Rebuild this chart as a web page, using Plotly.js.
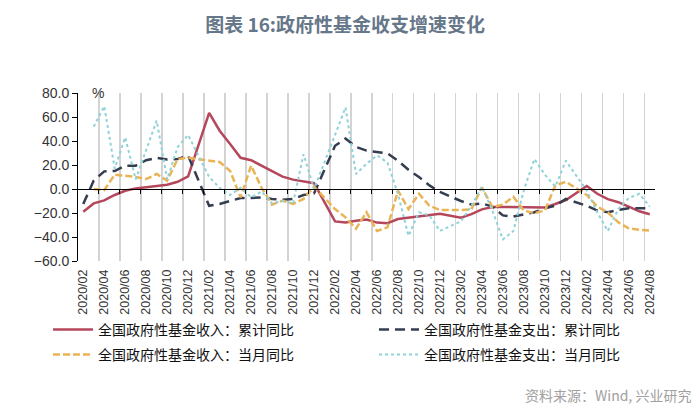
<!DOCTYPE html>
<html>
<head>
<meta charset="utf-8">
<script src="https://cdn.plot.ly/plotly-3.0.1.min.js"></script>
<style>html,body{margin:0;padding:0;background:#fff;}#chart{width:700px;height:407px;}</style>
</head>
<body>
<div id="chart"></div>
<script>
const categories = [
  "2020/02","2020/03","2020/04","2020/05","2020/06","2020/07","2020/08","2020/09","2020/10","2020/11","2020/12",
  "2021/01","2021/02","2021/03","2021/04","2021/05","2021/06","2021/07","2021/08","2021/09","2021/10","2021/11","2021/12",
  "2022/01","2022/02","2022/03","2022/04","2022/05","2022/06","2022/07","2022/08","2022/09","2022/10","2022/11","2022/12",
  "2023/01","2023/02","2023/03","2023/04","2023/05","2023/06","2023/07","2023/08","2023/09","2023/10","2023/11","2023/12",
  "2024/01","2024/02","2024/03","2024/04","2024/05","2024/06","2024/07","2024/08"
];
// 全国政府性基金收入：累计同比
const revenueCum = [-19,-12,-9.5,-5,-1.5,0.5,1.5,2.8,3.5,6,10.6,
  null,63.4,48.6,37.5,26,24,19.5,14.7,10.3,7.8,6,4.8,
  null,-27,-28,-26.5,-25.5,-28,-28.5,-25,-24,-22.5,-21.5,-20.6,
  null,-24,-21,-17,-15,-15,-15,-15.5,-15.5,-15.5,-12.5,-9.2,
  null,2.5,-4,-8.5,-11,-14.7,-18.6,-21];
// 全国政府性基金支出：累计同比
const expenditureCum = [-12.5,7,14.7,15,19.4,19.4,24,26,24.5,25,27.8,
  null,-14,-12.5,-9.7,-7.5,-7.5,-7,-8.3,-9,-8.3,-5,-3.7,
  null,36,42,35,32,31,29.7,23.6,16,10,3,-2.5,
  null,-10,-13,-12,-14.7,-22,-23,-21.4,-19.4,-16,-14,-8.3,
  null,-14,-18,-19.4,-17.5,-16,-16,-16];
// 全国政府性基金收入：当月同比
const revenueMonth = [null,0,-1,12,11,10,8.3,12.5,7,25,26,
  null,24,22.5,15,-7,19.5,1,-13,-9.7,-12.5,-8.3,2,
  null,-16.7,-23.6,-33,-19.4,-35,-32,-1.4,-16.7,-4,-14,-17.5,
  null,-17.5,-17,1.4,-15,-13,-6.4,-18,-20,-18,3,6,
  null,-5,-14.7,-19.4,-27.8,-32.8,-33.9,-34.7];
// 全国政府性基金支出：当月同比
const expenditureMonth = [null,52,69,17,43,8,33,57,8,35,45,
  null,10,1,-5,1,-7,-2,-12,-10,-12,29,0,
  null,45,68,12.5,21,28,22,-4,-39,-19.4,-22,-35,
  null,-27,-14,2,-18,-42,-35,-1,25,12,2,23.6,
  null,-1.4,-19.4,-35,-16.7,-7.5,-4,-14.7];
const seriesNames = ["全国政府性基金收入：累计同比","全国政府性基金支出：累计同比","全国政府性基金收入：当月同比","全国政府性基金支出：当月同比"];
const yTicks = [-60,-40,-20,0,20,40,60,80];

const labelVals = categories.filter((c, i) => i % 2 === 0);
const gridVals = categories.map((c, i) => i).filter(i => i % 2 === 0 && i > 0).map(i => i - 0.5);
const xr = [-0.5, categories.length - 0.5];

const traces = [
  {x: categories, y: revenueCum, name: seriesNames[0], type: 'scatter', mode: 'lines', connectgaps: true,
   legend: 'legend', line: {color: '#b5475c', width: 2.5}},
  {x: categories, y: expenditureCum, name: seriesNames[1], type: 'scatter', mode: 'lines', connectgaps: true,
   legend: 'legend', line: {color: '#353d50', width: 2.5, dash: '10px,6px'}},
  {x: categories, y: revenueMonth, name: seriesNames[2], type: 'scatter', mode: 'lines', connectgaps: true,
   legend: 'legend2', line: {color: '#eab456', width: 2.5, dash: '7px,3px'}},
  {x: categories, y: expenditureMonth, name: seriesNames[3], type: 'scatter', mode: 'lines', connectgaps: true,
   legend: 'legend2', line: {color: '#8fd2d8', width: 2, dash: 'dot'}}
];

const legendBase = {orientation: 'h', x: (59-78)/577, xanchor: 'left', yanchor: 'top',
  entrywidth: 271, entrywidthmode: 'pixels', itemwidth: 40, traceorder: 'normal',
  font: {family: 'Noto Sans CJK SC', size: 14, color: '#111'}, bgcolor: 'rgba(0,0,0,0)'};

const layout = {
  width: 700, height: 407,
  margin: {l: 78, r: 45, t: 93, b: 146, pad: 0},
  paper_bgcolor: '#fff', plot_bgcolor: '#fff',
  showlegend: true,
  title: {text: '图表 16:政府性基金收支增速变化', x: 0.493, xanchor: 'center', y: 1 - 25/407, yanchor: 'middle',
          font: {family: 'Noto Sans CJK SC', size: 19, color: '#66778a', weight: 700}},
  xaxis: {type: 'category', range: xr, tickvals: labelVals, ticktext: labelVals, tickangle: -90,
          showgrid: false, zeroline: false, showline: false, ticks: '', ticklabelstandoff: 5, automargin: false,
          tickfont: {family: 'Liberation Sans', size: 12.5, color: '#333'}},
  xaxis2: {overlaying: 'x', anchor: 'free', position: 60/140, range: xr, type: 'linear',
           tickvals: gridVals, showticklabels: false, ticks: 'outside', ticklen: 4, tickcolor: '#000', tickwidth: 1,
           showgrid: true, gridcolor: '#d3d3d3', gridwidth: 1.5, showline: true, linecolor: '#000', linewidth: 1,
           zeroline: false, automargin: false},
  yaxis: {range: [-60, 80], tickvals: yTicks, tickformat: '.1f', showgrid: false, zeroline: false, automargin: false,
          showline: true, linecolor: '#000', linewidth: 1, ticks: 'outside', ticklen: 5, tickcolor: '#000',
          tickfont: {family: 'Liberation Sans', size: 14, color: '#333'}},
  legend: Object.assign({}, legendBase, {y: -(314-261)/168}),
  legend2: Object.assign({}, legendBase, {y: -(339-261)/168}),
  annotations: [
    {text: '%', xref: 'paper', yref: 'paper', x: 20/577, y: 1, xanchor: 'center', yanchor: 'middle', showarrow: false,
     font: {family: 'Liberation Sans', size: 14, color: '#333'}},
    {text: '资料来源：Wind, 兴业研究', xref: 'paper', yref: 'paper', x: (693-78)/577, y: -(395-261)/168, xanchor: 'right', yanchor: 'middle', showarrow: false,
     font: {family: 'Noto Sans CJK SC', size: 14, color: '#a0a0a0'}}
  ]
};
// dummy trace to activate xaxis2
traces.push({x: xr, y: [null, null], xaxis: 'x2', type: 'scatter', mode: 'lines', showlegend: false, hoverinfo: 'skip'});

Plotly.newPlot('chart', traces, layout, {displayModeBar: false, staticPlot: true});
</script>
</body>
</html>
